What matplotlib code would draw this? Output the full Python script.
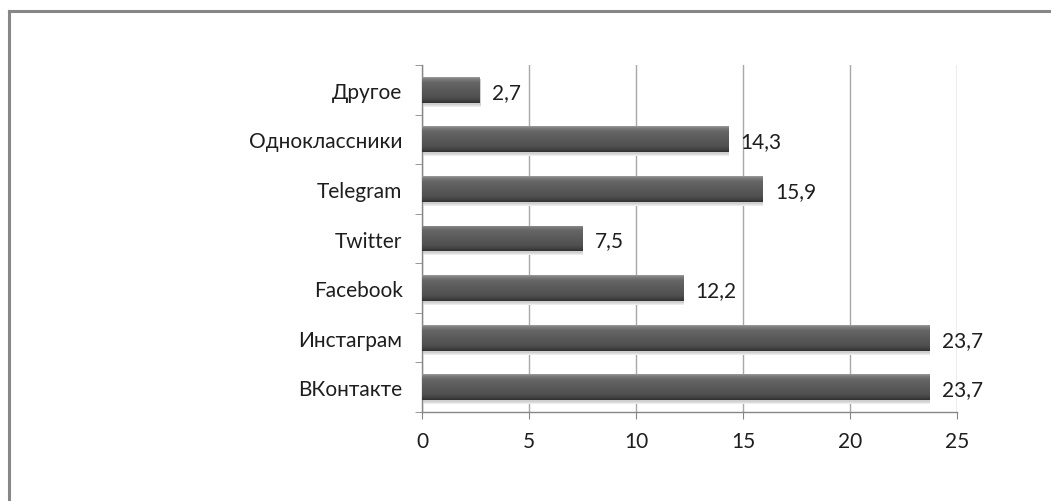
import matplotlib
matplotlib.use("Agg")
import matplotlib.pyplot as plt
import matplotlib.transforms as mtransforms
from matplotlib.colors import LinearSegmentedColormap
from matplotlib.lines import Line2D
import numpy as np

plt.rcParams['font.family'] = ['Lato', 'DejaVu Sans']

categories = ['ВКонтакте', 'Инстаграм', 'Facebook', 'Twitter', 'Telegram', 'Одноклассники', 'Другое']
values = [23.7, 23.7, 12.2, 7.5, 15.9, 14.3, 2.7]
labels = ['23,7', '23,7', '12,2', '7,5', '15,9', '14,3', '2,7']
xticks = [0, 5, 10, 15, 20, 25]

fig = plt.figure(figsize=(10.51, 5.02), dpi=100)
ax = fig.add_axes([0.4015, 0.1773, 0.5091, 0.6912])

# outer frame (only top and left visible)
fig.add_artist(Line2D([0.0085, 0.0085], [0, 0.976], color='#878787', lw=2.2, transform=fig.transFigure))
fig.add_artist(Line2D([0.0085, 1.0], [0.976, 0.976], color='#878787', lw=2.2, transform=fig.transFigure))

y = np.arange(len(categories))
h = 0.52

# soft shadow under bars
for off, col in [(4, '#ececec'), (3, '#dedede'), (2, '#cfcfcf')]:
    shadow = mtransforms.offset_copy(ax.transData, fig=fig, x=1, y=-off, units='dots')
    ax.barh(y, values, height=h, color=col, edgecolor='none', zorder=2, transform=shadow)
bars = ax.barh(y, values, height=h, color='#5a5a5a', edgecolor='none', zorder=3)

cmap = LinearSegmentedColormap.from_list('bevel', [
    (0.0, '#9a9a9a'), (0.07, '#7c7c7c'), (0.2, '#666666'),
    (0.5, '#5a5a5a'), (0.8, '#4f4f4f'), (0.92, '#404040'), (1.0, '#303030')])
grad = np.linspace(0, 1, 64).reshape(-1, 1)
for bar in bars:
    x0, y0 = bar.get_x(), bar.get_y()
    w, bh = bar.get_width(), bar.get_height()
    im = ax.imshow(grad, extent=[x0, x0 + w, y0, y0 + bh], aspect='auto',
                   cmap=cmap, zorder=4, interpolation='bilinear')
    im.set_clip_path(bar)

for yi, v, lab in zip(y, values, labels):
    ax.annotate(lab, (v, yi), xytext=(9, -1.5), textcoords='offset points',
                va='center', ha='left', fontsize=15, color='#1e1e1e', zorder=5)

ax.set_xlim(0, 25)
ax.set_ylim(-0.5, len(categories) - 0.5)
ax.set_xticks(xticks)
ax.set_xticklabels([str(t) for t in xticks])
ax.set_yticks(y)
ax.set_yticklabels(categories)
ax.set_yticks(np.arange(-0.5, len(categories), 1), minor=True)

ax.grid(axis='x', color='#a8a8a8', lw=1, zorder=0)
ax.set_axisbelow(True)
for s in ['top', 'right']:
    ax.spines[s].set_visible(False)
for s in ['left', 'bottom']:
    ax.spines[s].set_color('#868686')
    ax.spines[s].set_linewidth(1)

ax.tick_params(axis='y', which='major', length=0, pad=14, labelsize=15, labelcolor='#1e1e1e')
ax.tick_params(axis='y', which='minor', length=5, color='#868686', direction='out')
ax.tick_params(axis='x', which='major', length=5, color='#868686', pad=9, labelsize=15, labelcolor='#1e1e1e')

fig.savefig('out.png', dpi=100)
